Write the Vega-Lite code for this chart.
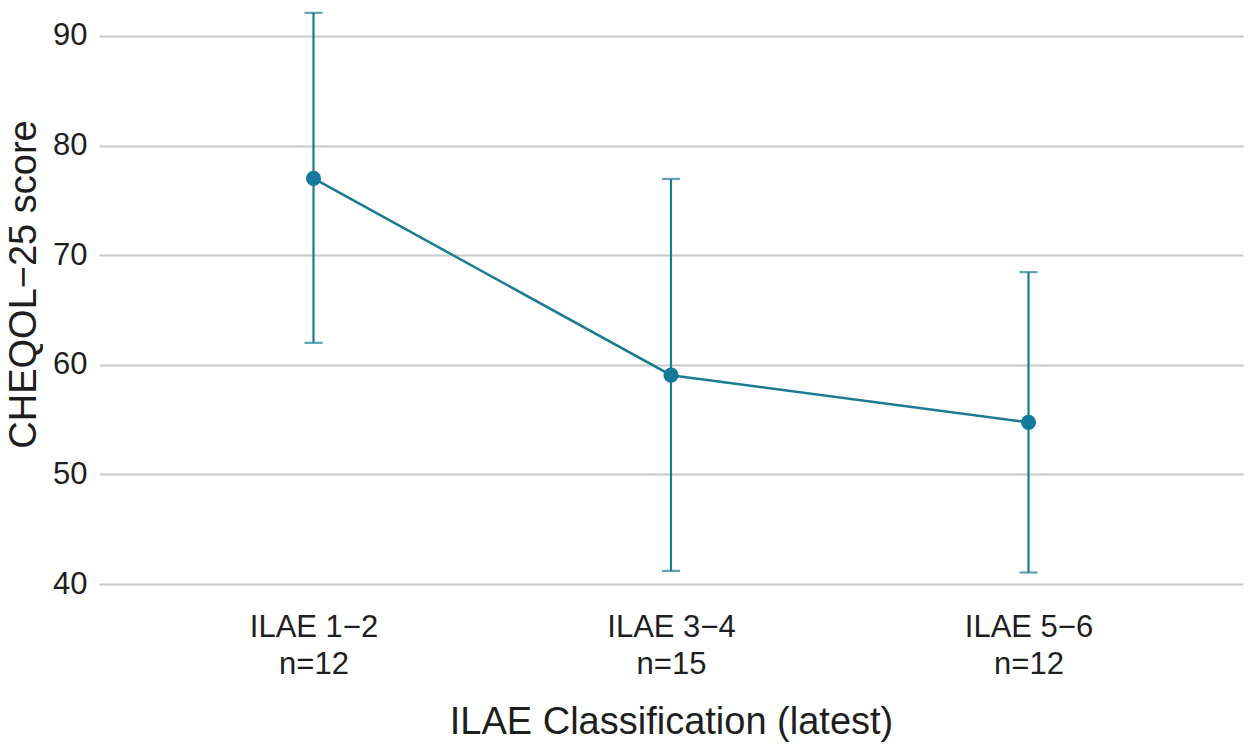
{
  "$schema": "https://vega.github.io/schema/vega-lite/v6.json",
  "autosize": {"type": "none"},
  "padding": {"left": 99, "top": 3, "right": 5, "bottom": 159},
  "width": 1144,
  "height": 592,
  "background": "white",
  "config": {
    "view": {"stroke": null},
    "font": "Liberation Sans"
  },
  "data": {
    "values": [
      {"group": "ILAE 1−2|n=12", "mean": 77.0, "lo": 62.0, "hi": 92.1},
      {"group": "ILAE 3−4|n=15", "mean": 59.05, "lo": 41.2, "hi": 76.95},
      {"group": "ILAE 5−6|n=12", "mean": 54.75, "lo": 41.05, "hi": 68.45}
    ]
  },
  "encoding": {
    "x": {
      "field": "group",
      "type": "nominal",
      "sort": null,
      "scale": {"type": "point", "padding": 0.6},
      "axis": {
        "title": "ILAE Classification (latest)",
        "labelExpr": "split(datum.label, '|')",
        "labelAngle": 0,
        "labelFontSize": 31,
        "labelLineHeight": 37,
        "labelPadding": 17,
        "labelColor": "#1e1e1e",
        "titleFontSize": 38,
        "titleFontWeight": "normal",
        "titleColor": "#1e1e1e",
        "titlePadding": 24,
        "domain": false,
        "ticks": false,
        "grid": false
      }
    }
  },
  "layer": [
    {
      "mark": {
        "type": "errorbar",
        "color": "#1b7b91",
        "thickness": 2.2,
        "ticks": {"size": 18, "thickness": 2.2, "color": "#1b7b91"}
      },
      "encoding": {
        "y": {
          "field": "lo",
          "type": "quantitative",
          "scale": {"domain": [39, 93], "nice": false, "zero": false},
          "axis": {
            "title": "CHEQOL−25 score",
            "values": [40, 50, 60, 70, 80, 90],
            "labelFontSize": 31,
            "labelPadding": 12,
            "labelColor": "#1e1e1e",
            "titleFontSize": 38,
            "titleFontWeight": "normal",
            "titleColor": "#1e1e1e",
            "titlePadding": 9,
            "titleY": 281,
            "domain": false,
            "ticks": false,
            "gridColor": "#c8c8c8",
            "gridWidth": 2
          }
        },
        "y2": {"field": "hi"}
      }
    },
    {
      "mark": {"type": "line", "color": "#1b7b91", "strokeWidth": 2.5},
      "encoding": {
        "y": {"field": "mean", "type": "quantitative"}
      }
    },
    {
      "mark": {"type": "point", "filled": true, "opacity": 1, "size": 230, "color": "#15799b"},
      "encoding": {
        "y": {"field": "mean", "type": "quantitative"}
      }
    }
  ]
}
